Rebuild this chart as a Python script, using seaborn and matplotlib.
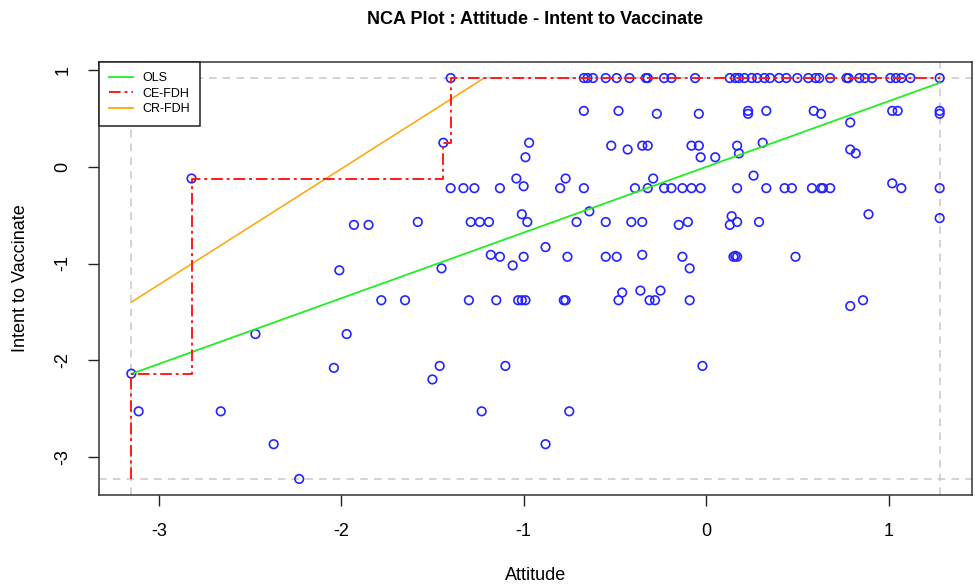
import numpy as np
import pandas as pd
import matplotlib
matplotlib.use("Agg")
import matplotlib.pyplot as plt
import seaborn as sns
from matplotlib.lines import Line2D

plt.rcParams["font.family"] = ["Liberation Sans", "DejaVu Sans"]

attitude = [
    # top row
    -1.40, -0.67, -0.65, -0.62, -0.55, -0.49, -0.42, -0.33, -0.32, -0.23,
    -0.19, -0.06, 0.13, 0.16, 0.18, 0.21, 0.25, 0.28, 0.32, 0.35,
    0.40, 0.44, 0.50, 0.56, 0.60, 0.62, 0.68, 0.77, 0.78, 0.84,
    0.87, 0.91, 1.01, 1.04, 1.07, 1.12, 1.28,
    # ~0.55
    -0.67, -0.48, -0.27, -0.04, 0.23, 0.23, 0.33, 0.59, 0.63, 0.79,
    1.02, 1.05, 1.28, 1.28,
    # ~0.2
    -1.44, -0.97, -0.52, -0.43, -0.35, -0.32, -0.08, -0.04, 0.17, 0.31, 0.79,
    # ~0.1
    -0.99, -0.03, 0.05, 0.18, 0.82,
    # ~-0.1
    -2.82, -1.04, -0.77, -0.29, 0.26, 1.02,
    # ~-0.22
    -1.40, -1.33, -1.27, -1.13, -1.00, -0.80, -0.67, -0.39, -0.32, -0.23,
    -0.19, -0.13, -0.08, -0.03, 0.17, 0.33, 0.43, 0.47, 0.58, 0.63,
    0.64, 0.68, 1.07, 1.28,
    # ~-0.57
    -1.93, -1.85, -1.58, -1.29, -1.24, -1.19, -1.01, -0.98, -0.71, -0.64,
    -0.55, -0.41, -0.35, -0.15, -0.10, 0.13, 0.14, 0.17, 0.29, 0.89, 1.28,
    # ~-0.83
    -0.88,
    # ~-0.93
    -1.45, -2.01, -1.18, -1.13, -1.06, -1.00, -0.76, -0.55, -0.49, -0.35,
    -0.13, -0.09, 0.15, 0.16, 0.17, 0.49,
    # ~-1.38
    -1.78, -1.65, -1.30, -1.15, -1.03, -1.01, -0.99, -0.78, -0.77, -0.48,
    -0.31, -0.28, -0.46, -0.36, -0.25, -0.09, 0.79, 0.86,
    # lower rows
    -2.47, -1.97,
    -1.46, -1.50, -1.10, -2.04, -0.02, -3.15,
    -3.11, -2.66, -1.23, -0.75,
    -2.37, -0.88,
    -2.23,
]

intent = [
    # top row
    0.92, 0.92, 0.92, 0.92, 0.92, 0.92, 0.92, 0.92, 0.92, 0.92,
    0.92, 0.92, 0.92, 0.92, 0.92, 0.92, 0.92, 0.92, 0.92, 0.92,
    0.92, 0.92, 0.92, 0.92, 0.92, 0.92, 0.92, 0.92, 0.92, 0.92,
    0.92, 0.92, 0.92, 0.92, 0.92, 0.92, 0.92,
    # ~0.55
    0.58, 0.58, 0.55, 0.55, 0.58, 0.55, 0.58, 0.58, 0.55, 0.46,
    0.58, 0.58, 0.58, 0.55,
    # ~0.2
    0.25, 0.25, 0.22, 0.18, 0.22, 0.22, 0.22, 0.22, 0.22, 0.25, 0.18,
    # ~0.1
    0.10, 0.10, 0.10, 0.14, 0.14,
    # ~-0.1
    -0.12, -0.12, -0.12, -0.12, -0.09, -0.17,
    # ~-0.22
    -0.22, -0.22, -0.22, -0.22, -0.20, -0.22, -0.22, -0.22, -0.22, -0.22,
    -0.22, -0.22, -0.22, -0.22, -0.22, -0.22, -0.22, -0.22, -0.22, -0.22,
    -0.22, -0.22, -0.22, -0.22,
    # ~-0.57
    -0.60, -0.60, -0.57, -0.57, -0.57, -0.57, -0.49, -0.57, -0.57, -0.46,
    -0.57, -0.57, -0.57, -0.60, -0.57, -0.60, -0.51, -0.57, -0.57, -0.49, -0.53,
    # ~-0.83
    -0.83,
    # ~-0.93
    -1.05, -1.07, -0.91, -0.93, -1.02, -0.93, -0.93, -0.93, -0.93, -0.91,
    -0.93, -1.05, -0.93, -0.92, -0.93, -0.93,
    # ~-1.38
    -1.38, -1.38, -1.38, -1.38, -1.38, -1.38, -1.38, -1.38, -1.38, -1.38,
    -1.38, -1.38, -1.30, -1.28, -1.28, -1.38, -1.44, -1.38,
    # lower rows
    -1.73, -1.73,
    -2.06, -2.20, -2.06, -2.08, -2.06, -2.14,
    -2.53, -2.53, -2.53, -2.53,
    -2.87, -2.87,
    -3.23,
]

# Ceiling lines
ce_fdh_peers_x = [-3.15, -2.82, -1.44, -1.40]
ce_fdh_peers_y = [-2.14, -0.12, 0.25, 0.92]
ols_intercept, ols_slope = 0.0, 0.68
cr_fdh_intercept, cr_fdh_slope = 2.38, 1.20

df = pd.DataFrame({"Attitude": attitude, "Intent": intent})

x_min, x_max = df["Attitude"].min(), df["Attitude"].max()
y_min, y_max = df["Intent"].min(), df["Intent"].max()

fig = plt.figure(figsize=(9.75, 5.86), dpi=100)
ax = fig.add_axes([99 / 975, 1 - 495 / 586, 873 / 975, 433 / 586])

# scope lines
for v in (x_min, x_max):
    ax.axvline(v, color="#c8c8c8", lw=1.1, dashes=(5, 4), zorder=1)
for v in (y_min, y_max):
    ax.axhline(v, color="#c8c8c8", lw=1.1, dashes=(5, 4), zorder=1)

sns.scatterplot(
    data=df,
    x="Attitude",
    y="Intent",
    ax=ax,
    marker="o",
    s=38,
    facecolor="none",
    edgecolor="#2424ff",
    linewidth=1.2,
    zorder=2
)

# OLS
ols_x = np.array([x_min, x_max])
ax.plot(ols_x, ols_intercept + ols_slope * ols_x,
        color="#22ee22", lw=1.3, zorder=3)

# CR-FDH
cr_end = (y_max - cr_fdh_intercept) / cr_fdh_slope
cr_x = np.array([x_min, cr_end])
ax.plot(cr_x, cr_fdh_intercept + cr_fdh_slope * cr_x,
        color="#ffa500", lw=1.1, zorder=3)

# CE-FDH step line
step_x = [x_min]
step_y = [y_min]
for i in range(len(ce_fdh_peers_x)):
    step_x += [ce_fdh_peers_x[i], ce_fdh_peers_x[i]]
    prev_y = step_y[-1]
    step_y += [prev_y, ce_fdh_peers_y[i]]
step_x.append(x_max)
step_y.append(step_y[-1])
ax.plot(step_x[1:], step_y[1:], color="#ff1a1a", lw=1.4,
        dashes=(6, 2, 1.5, 2), zorder=4)

pad_x = 0.04 * (x_max - x_min)
pad_y = 0.04 * (y_max - y_min)
ax.set_xlim(x_min - pad_x, x_max + pad_x)
ax.set_ylim(y_min - pad_y, y_max + pad_y)

ax.set_xticks([-3, -2, -1, 0, 1])
ax.set_yticks([-3, -2, -1, 0, 1])
ax.set_xticklabels(["-3", "-2", "-1", "0", "1"])
ax.set_yticklabels(["-3", "-2", "-1", "0", "1"])
ax.tick_params(direction="out", length=8, width=1, labelsize=13, pad=12,
               color="#222222")
for lab in ax.get_yticklabels():
    lab.set_rotation(90)
    lab.set_va("center")

for sp in ax.spines.values():
    sp.set_color("#333333")
    sp.set_linewidth(1.1)

ax.set_xlabel("Attitude", fontsize=13, va="center")
ax.xaxis.set_label_coords(0.5, (495 - 575) / 433)
ax.set_ylabel("Intent to Vaccinate", fontsize=13, va="center")
ax.yaxis.set_label_coords((21 - 99) / 873, 0.5)

fig.text((99 + 972) / 2 / 975, 1 - 19 / 586,
         "NCA Plot : Attitude - Intent to Vaccinate",
         ha="center", va="center", fontsize=13, fontweight="bold")

handles = [
    Line2D([], [], color="#22ee22", lw=1.3),
    Line2D([], [], color="#ff1a1a", lw=1.4, dashes=(6, 2, 1.5, 2)),
    Line2D([], [], color="#ffa500", lw=1.3),
]
leg = ax.legend(handles, ["OLS", "CE-FDH", "CR-FDH"], loc="upper left",
                bbox_to_anchor=(0, 1), borderaxespad=0, fontsize=9,
                handlelength=1.9, handletextpad=0.8, labelspacing=0.3,
                fancybox=False, framealpha=1, edgecolor="#222222",
                borderpad=0.8)
leg.get_frame().set_linewidth(1.1)
leg.set_zorder(6)

plt.savefig("out.png", dpi=100)
plt.close()
